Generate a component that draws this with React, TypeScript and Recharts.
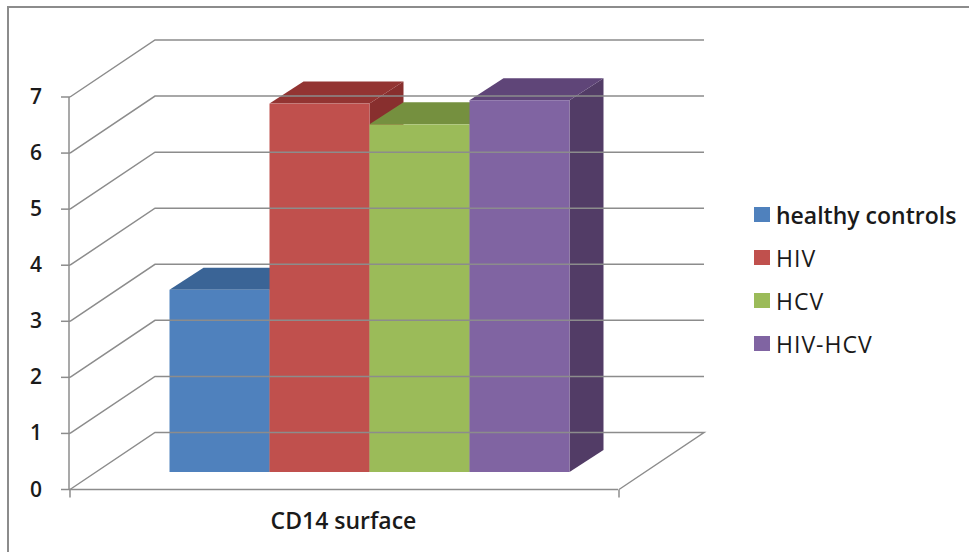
import * as React from "react";
import { BarChart, Bar, XAxis, YAxis, Legend } from "recharts";

const categories = ["CD14 surface"];
const seriesNames = ["healthy controls", "HIV", "HCV", "HIV-HCV"];
const seriesValues = [3.25, 6.57, 6.2, 6.63];
const yTicks = [0, 1, 2, 3, 4, 5, 6, 7];

const FRONT = ["#4f81bd", "#c0504d", "#9bbb59", "#8064a2"];
const TOP = ["#3a6496", "#933432", "#75903f", "#5f4578"];
const SIDE = ["#335680", "#882f2e", "#667e37", "#523c66"];

const rows = categories.map((category) => {
  const row: Record<string, string | number> = { category };
  seriesNames.forEach((name, i) => {
    row[name] = seriesValues[i];
  });
  return row;
});

const WIDTH = 969;
const HEIGHT = 552;
const AXIS_X = 69;
const AXIS_Y = 489.5;
const PLOT_W = 549;
const LINE = "#8c8c8c";
const FONT = "'Open Sans', sans-serif";

// wall offset of the 3D box, and where the bars stand inside it
const WALL_DX = 85;
const WALL_DY = -57;
const BAR_DX = 25.5;
const BAR_DY = -17.5;
const DEPTH_DX = 34;
const DEPTH_DY = -22;

// front face plus top and side faces, moved onto the floor of the box
function boxShape(index: number) {
  return function Box(props: any) {
    const x = props.x + BAR_DX;
    const y = props.y + BAR_DY;
    const { width: w, height: h } = props;
    return (
      <g>
        <polygon
          points={`${x + w},${y} ${x + w + DEPTH_DX},${y + DEPTH_DY} ${x + w + DEPTH_DX},${y + h + DEPTH_DY} ${x + w},${y + h}`}
          fill={SIDE[index]}
        />
        <polygon
          points={`${x},${y} ${x + DEPTH_DX},${y + DEPTH_DY} ${x + w + DEPTH_DX},${y + DEPTH_DY} ${x + w},${y}`}
          fill={TOP[index]}
        />
        <rect x={x} y={y} width={w} height={h} fill={FRONT[index]} />
      </g>
    );
  };
}

// each y tick carries its label and its gridline across side and back walls
function WallTick(props: any) {
  const { x, y, payload } = props;
  const ax = x + 9;
  const isZero = payload.value === 0;
  return (
    <g>
      <polyline
        points={`${ax},${y} ${ax + WALL_DX},${y + WALL_DY} ${ax + WALL_DX + PLOT_W},${y + WALL_DY}${isZero ? ` ${ax + PLOT_W},${y}` : ""}`}
        fill="none"
        stroke={LINE}
        strokeWidth={1.5}
      />
      <line x1={ax - 9} y1={y} x2={ax} y2={y} stroke={LINE} strokeWidth={1.5} />
      {isZero && (
        <>
          <line x1={ax} y1={y} x2={ax} y2={y + 8} stroke={LINE} strokeWidth={1.5} />
          <line x1={ax + PLOT_W} y1={y} x2={ax + PLOT_W} y2={y + 8} stroke={LINE} strokeWidth={1.5} />
        </>
      )}
      <text
        x={36}
        y={y - 1}
        textAnchor="middle"
        dominantBaseline="central"
        fontFamily={FONT}
        fontSize={21}
        fontWeight={600}
        fill="#1a1a1a"
      >
        {payload.value}
      </text>
    </g>
  );
}

function CategoryTick(props: any) {
  const { x, payload } = props;
  return (
    <text
      x={x}
      y={520}
      textAnchor="middle"
      dominantBaseline="central"
      fontFamily={FONT}
      fontSize={23}
      fontWeight={600}
      fill="#1a1a1a"
    >
      {payload.value}
    </text>
  );
}

function LegendBox() {
  return (
    <div style={{ fontFamily: FONT, fontSize: 23, color: "#1a1a1a" }}>
      {seriesNames.map((name, i) => (
        <div key={name} style={{ display: "flex", alignItems: "center", height: 43 }}>
          <span style={{ width: 16, height: 15, background: FRONT[i], marginRight: 6 }} />
          <span
            style={{
              whiteSpace: "nowrap",
              fontWeight: i === 0 ? 600 : 400,
              letterSpacing: i === 0 ? 0 : 1,
            }}
          >
            {name}
          </span>
        </div>
      ))}
    </div>
  );
}

export default function App() {
  return (
    <div style={{ position: "absolute", left: 0, top: 0, width: WIDTH, height: HEIGHT, background: "#fff" }}>
      <div
        style={{
          position: "absolute",
          left: 7,
          top: 6,
          width: WIDTH - 7,
          height: HEIGHT - 6,
          boxSizing: "border-box",
          borderLeft: `2px solid ${LINE}`,
          borderTop: `2px solid ${LINE}`,
        }}
      />
      <BarChart
        width={WIDTH}
        height={HEIGHT}
        data={rows}
        barSize={100}
        barGap={0}
        margin={{ top: 97, right: WIDTH - AXIS_X - PLOT_W, bottom: 0, left: 0 }}
        style={{ position: "absolute", left: 0, top: 0 }}
      >
        <XAxis
          dataKey="category"
          height={HEIGHT - AXIS_Y}
          axisLine={{ stroke: LINE, strokeWidth: 1.5 }}
          tickLine={false}
          tick={<CategoryTick />}
        />
        <YAxis
          width={AXIS_X}
          domain={[0, 7]}
          ticks={yTicks}
          interval={0}
          axisLine={{ stroke: LINE, strokeWidth: 1.5 }}
          tickLine={false}
          tick={<WallTick />}
        />
        {seriesNames.map((name, i) => (
          <Bar
            key={name}
            dataKey={name}
            fill={FRONT[i]}
            shape={boxShape(i)}
            isAnimationActive={false}
          />
        ))}
        <Legend
          layout="vertical"
          align="center"
          verticalAlign="middle"
          content={<LegendBox />}
          wrapperStyle={{ left: 754, top: 193, width: 215 }}
        />
      </BarChart>
    </div>
  );
}
